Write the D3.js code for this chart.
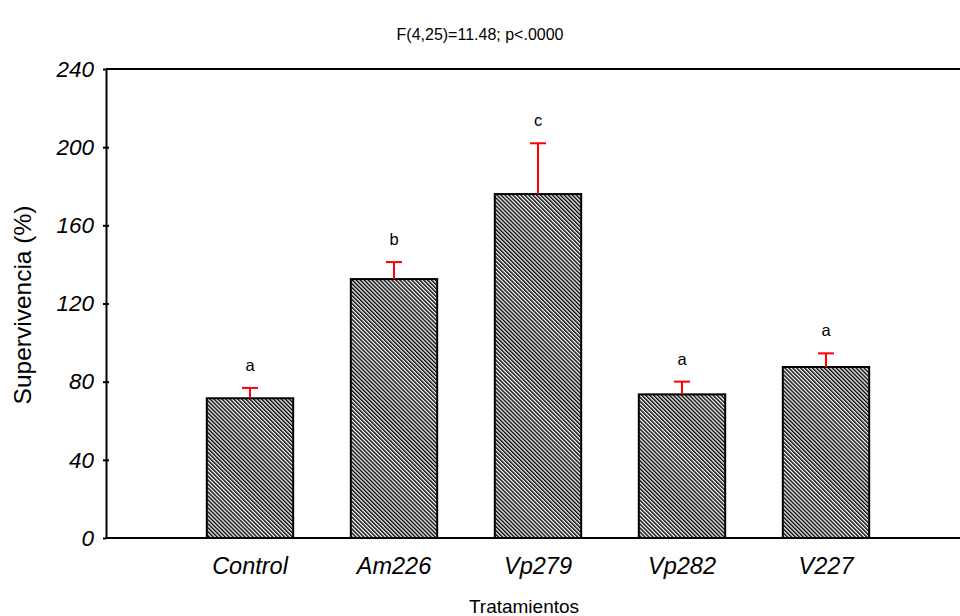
<!DOCTYPE html>
<html>
<head>
<meta charset="utf-8">
<script src="https://cdn.jsdelivr.net/npm/d3@7"></script>
<style>
  body { margin: 0; background: #fff; }
  text { font-family: "Liberation Sans", Arial, sans-serif; fill: #000; }
</style>
</head>
<body>
<div id="chart"></div>
<script>
const categories = ["Control", "Am226", "Vp279", "Vp282", "V227"];
const means = [71.5, 132.5, 176, 73.5, 87.5];
const upperErr = [76.8, 141.2, 202, 80, 94.5];
const groupLetters = ["a", "b", "c", "a", "a"];
const yTicks = [0, 40, 80, 120, 160, 200, 240];

const W = 960, H = 616;
const plotLeft = 106, plotTop = 69, plotBottom = 538;

const svg = d3.select("#chart").append("svg")
  .attr("width", W).attr("height", H);

const defs = svg.append("defs");
const pat = defs.append("pattern")
  .attr("id", "hatch")
  .attr("patternUnits", "userSpaceOnUse")
  .attr("width", 2.8).attr("height", 2.8)
  .attr("patternTransform", "rotate(-45)");
pat.append("rect").attr("width", 2.8).attr("height", 2.8).attr("fill", "#fff");
pat.append("line").attr("x1", 0.7).attr("y1", 0).attr("x2", 0.7).attr("y2", 2.8)
  .attr("stroke", "#000").attr("stroke-width", 1.5);

const x = d3.scaleBand().domain(categories).range([178, 898])
  .paddingInner(0.4).paddingOuter(0.2);
const y = d3.scaleLinear().domain([0, 240]).range([plotBottom, plotTop]);

const data = categories.map((c, i) => ({ c, m: means[i], e: upperErr[i], l: groupLetters[i] }));

// bars
svg.selectAll(".bar").data(data).enter().append("rect")
  .attr("x", d => x(d.c))
  .attr("y", d => y(d.m))
  .attr("width", x.bandwidth())
  .attr("height", d => y(0) - y(d.m))
  .attr("fill", "url(#hatch)")
  .attr("stroke", "#000").attr("stroke-width", 2);

// error bars
const eb = svg.selectAll(".err").data(data).enter().append("g")
  .attr("stroke", "#ff0000").attr("stroke-width", 2);
eb.append("line")
  .attr("x1", d => x(d.c) + x.bandwidth() / 2).attr("x2", d => x(d.c) + x.bandwidth() / 2)
  .attr("y1", d => y(d.m)).attr("y2", d => y(d.e));
eb.append("line")
  .attr("x1", d => x(d.c) + x.bandwidth() / 2 - 8).attr("x2", d => x(d.c) + x.bandwidth() / 2 + 8)
  .attr("y1", d => y(d.e)).attr("y2", d => y(d.e));

// letters
svg.selectAll(".lab").data(data).enter().append("text")
  .attr("x", d => x(d.c) + x.bandwidth() / 2)
  .attr("y", d => y(d.e) - 17)
  .attr("text-anchor", "middle")
  .style("font-size", "16.5px")
  .text(d => d.l);

// axes frame
svg.append("line").attr("x1", plotLeft).attr("x2", W).attr("y1", plotTop).attr("y2", plotTop)
  .attr("stroke", "#000").attr("stroke-width", 2);
svg.append("line").attr("x1", plotLeft).attr("x2", W).attr("y1", plotBottom).attr("y2", plotBottom)
  .attr("stroke", "#000").attr("stroke-width", 2);

const yAxis = svg.append("g").attr("transform", `translate(${plotLeft},0)`)
  .call(d3.axisLeft(y).tickValues(yTicks).tickSize(0).tickPadding(12));
yAxis.select(".domain").attr("stroke", "#000").attr("stroke-width", 2);
yAxis.selectAll(".tick line").remove();
yAxis.selectAll(".tick").append("line")
  .attr("x1", -3).attr("x2", d => (d === 0 || d === 240) ? 0 : 3)
  .attr("stroke", "#000").attr("stroke-width", 2);
yAxis.selectAll(".tick text")
  .style("font-family", "'Liberation Sans', Arial, sans-serif")
  .style("font-size", "22.5px").style("font-style", "italic");

const xAxis = svg.append("g").attr("transform", `translate(0,${plotBottom})`)
  .call(d3.axisBottom(x).tickSize(0).tickPadding(19));
xAxis.select(".domain").remove();
xAxis.selectAll(".tick text")
  .style("font-family", "'Liberation Sans', Arial, sans-serif")
  .style("font-size", "23.5px").style("font-style", "italic");

// titles
svg.append("text").attr("x", 480).attr("y", 40).attr("text-anchor", "middle")
  .style("font-size", "16px").text("F(4,25)=11.48; p<.0000");
svg.append("text").attr("x", 524).attr("y", 613).attr("text-anchor", "middle")
  .style("font-size", "19px").text("Tratamientos");
svg.append("text")
  .attr("transform", `translate(31,305) rotate(-90)`)
  .attr("text-anchor", "middle")
  .style("font-size", "24.5px").text("Supervivencia (%)");
</script>
</body>
</html>
